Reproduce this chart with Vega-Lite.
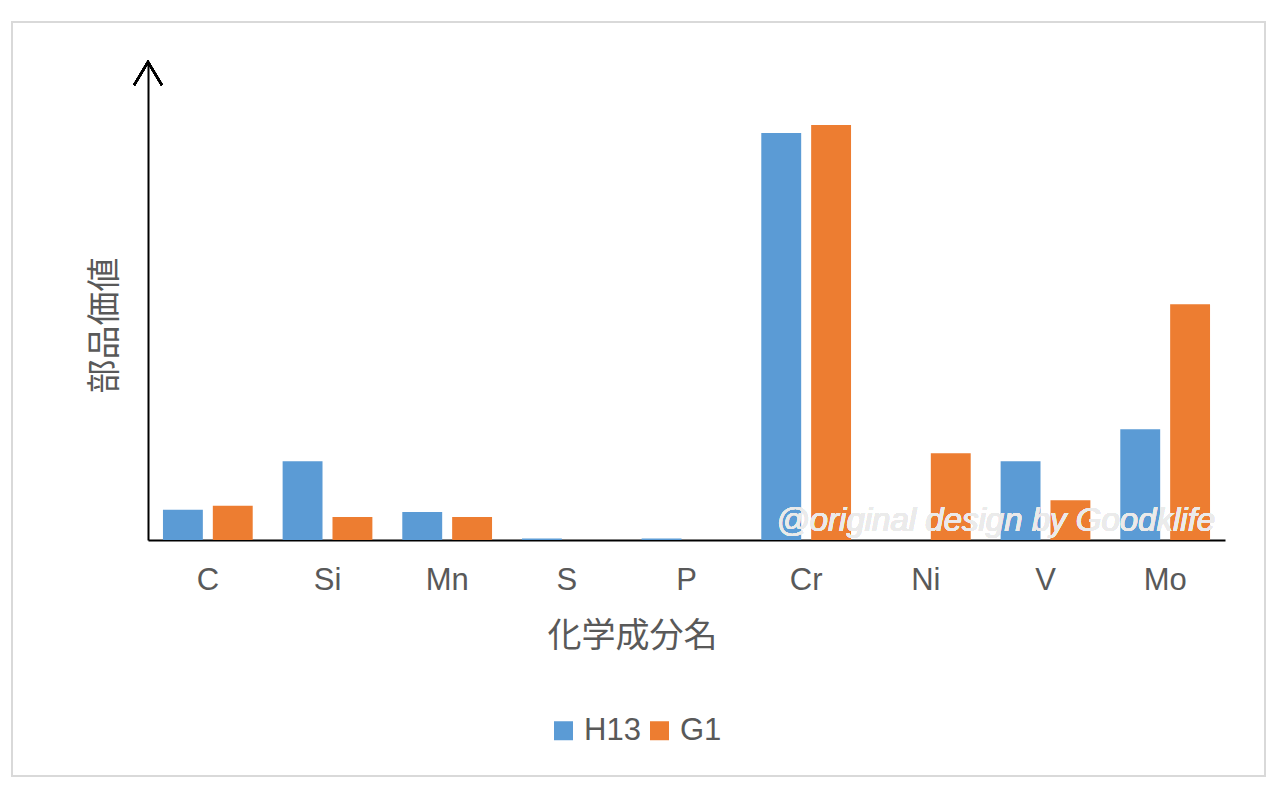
{
  "$schema": "https://vega.github.io/schema/vega-lite/v6.json",
  "width": 1253,
  "height": 754,
  "autosize": {"type": "none"},
  "padding": {"left": 12, "top": 22, "right": 14, "bottom": 19},
  "background": "#ffffff",
  "config": {
    "view": {"stroke": "#d9d9d9", "strokeWidth": 2},
    "font": "Liberation Sans"
  },
  "data": {
    "values": [
      {"element": "C", "series": "H13", "value": 0.38},
      {"element": "C", "series": "G1", "value": 0.43},
      {"element": "Si", "series": "H13", "value": 0.99},
      {"element": "Si", "series": "G1", "value": 0.29},
      {"element": "Mn", "series": "H13", "value": 0.35},
      {"element": "Mn", "series": "G1", "value": 0.29},
      {"element": "S", "series": "H13", "value": 0.02},
      {"element": "S", "series": "G1", "value": 0},
      {"element": "P", "series": "H13", "value": 0.02},
      {"element": "P", "series": "G1", "value": 0},
      {"element": "Cr", "series": "H13", "value": 5.11},
      {"element": "Cr", "series": "G1", "value": 5.21},
      {"element": "Ni", "series": "H13", "value": 0},
      {"element": "Ni", "series": "G1", "value": 1.09},
      {"element": "V", "series": "H13", "value": 0.99},
      {"element": "V", "series": "G1", "value": 0.5},
      {"element": "Mo", "series": "H13", "value": 1.39},
      {"element": "Mo", "series": "G1", "value": 2.96}
    ]
  },
  "encoding": {
    "x": {
      "field": "element",
      "type": "nominal",
      "sort": ["C", "Si", "Mn", "S", "P", "Cr", "Ni", "V", "Mo"],
      "scale": {"range": [136, 1213], "paddingInner": 0.25, "paddingOuter": 0.125},
      "axis": {
        "title": "化学成分名",
        "titleFont": "Noto Sans CJK JP",
        "titleFontSize": 34,
        "titleFontWeight": "normal",
        "titleColor": "#595959",
        "titleX": 620,
        "titleY": 96,
        "titleAlign": "center",
        "titleBaseline": "middle",
        "labelAngle": 0,
        "labelFont": "Liberation Sans",
        "labelFontSize": 31,
        "labelColor": "#595959",
        "labelBaseline": "middle",
        "labelPadding": 40,
        "ticks": false,
        "tickSize": 0,
        "domainColor": "#000000",
        "domainWidth": 2,
        "offset": -236
      }
    },
    "y": {
      "field": "value",
      "type": "quantitative",
      "scale": {"domain": [0, 6], "range": [518, 40], "nice": false, "zero": true},
      "axis": {
        "title": "部品価値",
        "titleFont": "Noto Sans CJK JP",
        "titleFontSize": 34,
        "titleFontWeight": "normal",
        "titleColor": "#595959",
        "titleAngle": 270,
        "titleX": -43,
        "titleY": 303,
        "titleAlign": "center",
        "titleBaseline": "middle",
        "labels": false,
        "ticks": false,
        "tickSize": 0,
        "grid": false,
        "domainColor": "#000000",
        "domainWidth": 2,
        "offset": -136
      }
    }
  },
  "layer": [
    {
      "mark": {"type": "bar"},
      "encoding": {
        "xOffset": {
          "field": "series",
          "type": "nominal",
          "sort": ["H13", "G1"],
          "scale": {"paddingInner": 0.2, "paddingOuter": 0}
        },
        "color": {
          "field": "series",
          "type": "nominal",
          "sort": ["H13", "G1"],
          "scale": {"domain": ["H13", "G1"], "range": ["#5b9bd5", "#ed7d31"]},
          "legend": {
            "title": null,
            "orient": "none",
            "direction": "horizontal",
            "legendX": 536,
            "legendY": 693,
            "padding": 0,
            "symbolType": "square",
            "symbolSize": 361,
            "symbolStrokeWidth": 0,
            "labelFont": "Liberation Sans",
            "labelFontSize": 31,
            "labelColor": "#595959",
            "labelOffset": 5,
            "columnPadding": 3
          }
        }
      }
    },
    {
      "mark": {
        "type": "text",
        "text": "@original design by Goodklife",
        "align": "right",
        "baseline": "middle",
        "dx": 50,
        "font": "Liberation Sans",
        "fontStyle": "italic",
        "fontSize": 33,
        "fill": "#ebebeb",
        "opacity": 0.75
      },
      "encoding": {
        "x": {"datum": "Mo"},
        "y": {"datum": 0.24},
        "color": {"value": "#ebebeb"}
      }
    },
    {
      "mark": {
        "type": "point",
        "shape": "M-0.6,1L0,0L0.6,1",
        "size": 2116,
        "filled": false,
        "stroke": "#000000",
        "strokeWidth": 2,
        "opacity": 1
      },
      "encoding": {
        "x": {"datum": "C", "bandPosition": -0.1667},
        "y": {"datum": 6},
        "color": {"value": "#000000"}
      }
    }
  ]
}
